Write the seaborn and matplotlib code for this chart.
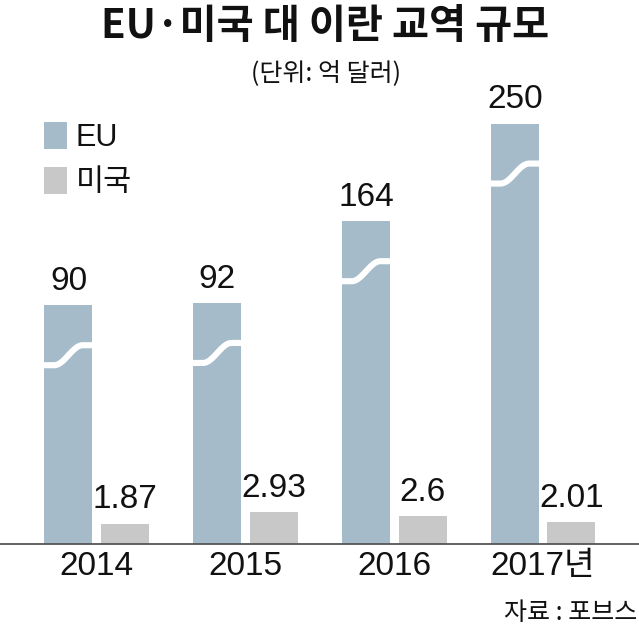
import numpy as np
import pandas as pd
import matplotlib
matplotlib.use("Agg")
import matplotlib.pyplot as plt
import matplotlib.transforms as mtransforms
from matplotlib import font_manager as fm
import seaborn as sns

# ---- data ----
years = ["2014", "2015", "2016", "2017년"]
series = ["EU", "미국"]
eu_values = [90, 92, 164, 250]
us_values = [1.87, 2.93, 2.6, 2.01]
eu_labels = ["90", "92", "164", "250"]
us_labels = ["1.87", "2.93", "2.6", "2.01"]
colors = ["#A5BBCA", "#C8C8C8"]

title = "EU·미국 대 이란 교역 규모"
subtitle = "(단위: 억 달러)"
source = "자료 : 포브스"

df = pd.DataFrame({
    "year": years * 2,
    "series": [series[0]] * len(years) + [series[1]] * len(years),
    "value": eu_values + us_values,
})

# ---- fonts ----
sns.set_style("white")
def has_font(name):
    try:
        fm.findfont(fm.FontProperties(family=name), fallback_to_default=False)
        return True
    except Exception:
        return False

NARROW = "Liberation Sans Narrow" if has_font("Liberation Sans Narrow") else "Liberation Sans"
KR = "Noto Sans CJK KR"
plt.rcParams["font.family"] = [NARROW, KR, "DejaVu Sans"]

# ---- broken (piecewise linear) value scale ----
LOW_RATE = 10.8
HIGH_OFF = 136.6
HIGH_RATE = 1.1354
BREAK = HIGH_OFF / (LOW_RATE - HIGH_RATE)

def fwd(v):
    v = np.asarray(v, dtype=float)
    return np.where(v <= BREAK, LOW_RATE * v, HIGH_OFF + HIGH_RATE * v)

def inv(y):
    y = np.asarray(y, dtype=float)
    return np.where(y <= LOW_RATE * BREAK, y / LOW_RATE, (y - HIGH_OFF) / HIGH_RATE)

W, H = 639, 627
fig = plt.figure(figsize=(W / 100, H / 100), dpi=100)
base = 544
ax = fig.add_axes([0, (H - base) / H, 1, base / H])

sns.barplot(data=df, x="year", y="value", hue="series", order=years,
            hue_order=series, palette=colors, saturation=1,
            width=0.76, gap=0.151, linewidth=0, ax=ax, legend=True)

ax.set_yscale("function", functions=(fwd, inv))
ax.set_ylim(0, float(inv(base)))
ax.set_xlim(-0.65, 3.644)
ax.set_yticks([])
ax.set_xlabel("")
ax.set_ylabel("")
for s in ["top", "left", "right"]:
    ax.spines[s].set_visible(False)
ax.spines["bottom"].set_color("#555555")
ax.spines["bottom"].set_linewidth(1.3)
ax.tick_params(axis="x", length=0, pad=5, labelsize=24, labelcolor="#111111")
for lab in ax.get_xticklabels():
    lab.set_fontfamily([NARROW, KR])

# value labels
val_font = dict(fontsize=24, color="#111111", family=[NARROW, "Liberation Sans"])
ax.bar_label(ax.containers[0], labels=eu_labels, padding=6, **val_font)
ax.bar_label(ax.containers[1], labels=us_labels, padding=6, **val_font)

# wavy break marks on EU bars
ident = mtransforms.IdentityTransform()
for p in ax.containers[0].patches:
    x0, w, top = p.get_x(), p.get_width(), p.get_height()
    xl, yt = ax.transData.transform((x0, top))
    xr = ax.transData.transform((x0 + w, top))[0]
    xs = np.linspace(xl - 3, xr + 3, 80)
    t = np.clip(((xs - xl) / (xr - xl) - 0.2) / 0.6, 0, 1)
    s = 0.5 - 0.5 * np.cos(np.pi * t)
    ys = yt - 60 + 20 * s
    ax.plot(xs, ys, color="white", lw=4.4, solid_capstyle="butt",
            transform=ident, zorder=5)

# legend
old = ax.get_legend()
handles = old.legend_handles
labels = [t.get_text() for t in old.get_texts()]
old.remove()
leg = ax.legend(handles, labels, loc="upper left",
                bbox_to_anchor=(44 / W, 1 - 122 / H), bbox_transform=fig.transFigure,
                frameon=False, borderpad=0, borderaxespad=0,
                handlelength=0.75, handleheight=1.0, handletextpad=0.28,
                labelspacing=0.45,
                prop=fm.FontProperties(family=[NARROW, KR], size=22, weight="light"))
for t in leg.get_texts():
    t.set_color("#111111")

# texts
fig.text(325 / W, 1 - 26 / H, title, ha="center", va="center",
         fontsize=29, fontweight="bold", family=[KR, "DejaVu Sans"], color="#111111")
fig.text(326 / W, 1 - 73 / H, subtitle, ha="center", va="center",
         fontsize=18, family=[KR, "DejaVu Sans"], color="#111111")
fig.text(637 / W, 1 - 613 / H, source, ha="right", va="center",
         fontsize=18, fontweight="light", family=[KR, "DejaVu Sans"], color="#111111")

fig.savefig("out.png", dpi=100)
